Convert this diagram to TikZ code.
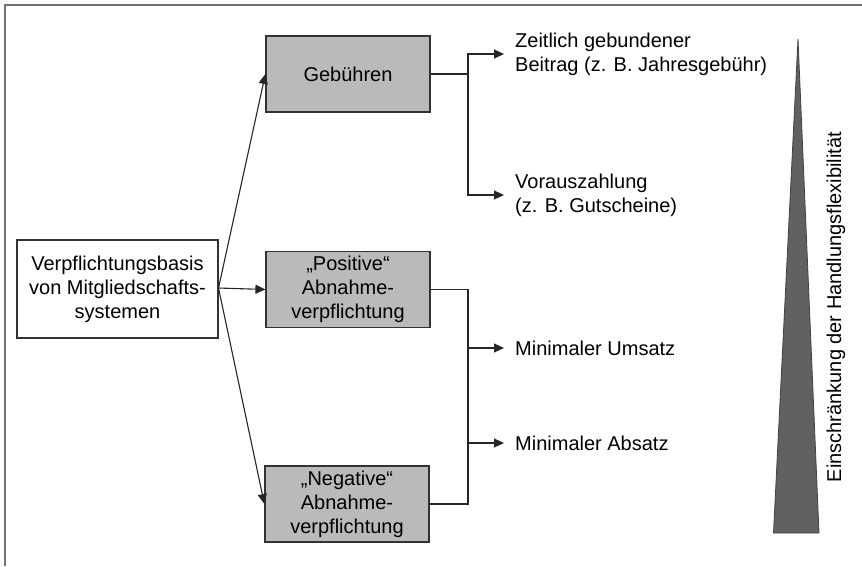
\documentclass[tikz,border=0pt]{standalone}
\usepackage{fontspec}
\setmainfont{Liberation Sans}
\usetikzlibrary{arrows.meta}
\begin{document}
\begin{tikzpicture}[x=1pt,y=-1pt,
  every node/.style={font=\fontsize{20pt}{24pt}\selectfont},
  frame/.style={draw=black!55,line width=1.6pt},
  basebox/.style={draw=black!80,line width=1.2pt,fill=white,align=center,inner sep=0pt,minimum width=201pt,minimum height=98pt},
  graybox/.style={draw=black!80,line width=1.2pt,fill=black!27,align=center,inner sep=0pt,minimum width=164pt,minimum height=76pt},
  label/.style={anchor=west,align=left,inner xsep=11pt,inner ysep=0pt},
  conn/.style={draw=black!85,line width=1.1pt},
  arr/.style={conn,-{Triangle[length=10pt,width=9pt]}}
]
\useasboundingbox (0,0) rectangle (862,566);
% outer frame (top and left edges)
\draw[frame] (5,566) -- (5,5) -- (862,5);

% nodes
\node[basebox] (base) at (117.5,289) {Verpflichtungsbasis\\von Mitgliedschafts-\\systemen};
\node[graybox] (geb) at (348,74) {Gebühren};
\node[graybox] (pos) at (348,289.5) {„Positive“\\Abnahme-\\verpflichtung};
\node[graybox] (neg) at (347,504) {„Negative“\\Abnahme-\\verpflichtung};

\node[label] (zeit) at (504,54) {Zeitlich gebundener\\Beitrag (z. B. Jahresgebühr)};
\node[label] (vor) at (504,195) {Vorauszahlung\\(z. B. Gutscheine)};
\node[label] (ums) at (504,348) {Minimaler Umsatz};
\node[label] (abs) at (504,443) {Minimaler Absatz};

\coordinate (src) at (218.5,288);
\coordinate (j1) at (468,74);
\coordinate (j2) at (468,289.5);

% connectors from base
\draw[arr] (src) -- (geb.west);
\draw[arr] (src) -- (pos.west);
\draw[arr] (src) -- (neg.west);

% Gebuehren branch
\draw[conn] (geb.east) -- (j1);
\draw[arr] (j1) |- (zeit.west);
\draw[arr] (j1) |- (vor.west);

% Abnahme branch
\draw[conn] (pos.east) -| (j2) |- (neg.east);
\draw[arr] (j2 |- ums.west) -- (ums.west);
\draw[arr] (j2 |- abs.west) -- (abs.west);

% triangle
\coordinate (tapex) at (798,39);
\coordinate (tbl) at (773.5,533);
\coordinate (tbr) at (819,533);
\filldraw[fill=black!62,draw=black!75,line width=0.8pt] (tapex) -- (tbr) -- (tbl) -- cycle;
\node[rotate=90] (flex) at (836,307) {Einschränkung der Handlungsflexibilität};
\end{tikzpicture}
\end{document}
